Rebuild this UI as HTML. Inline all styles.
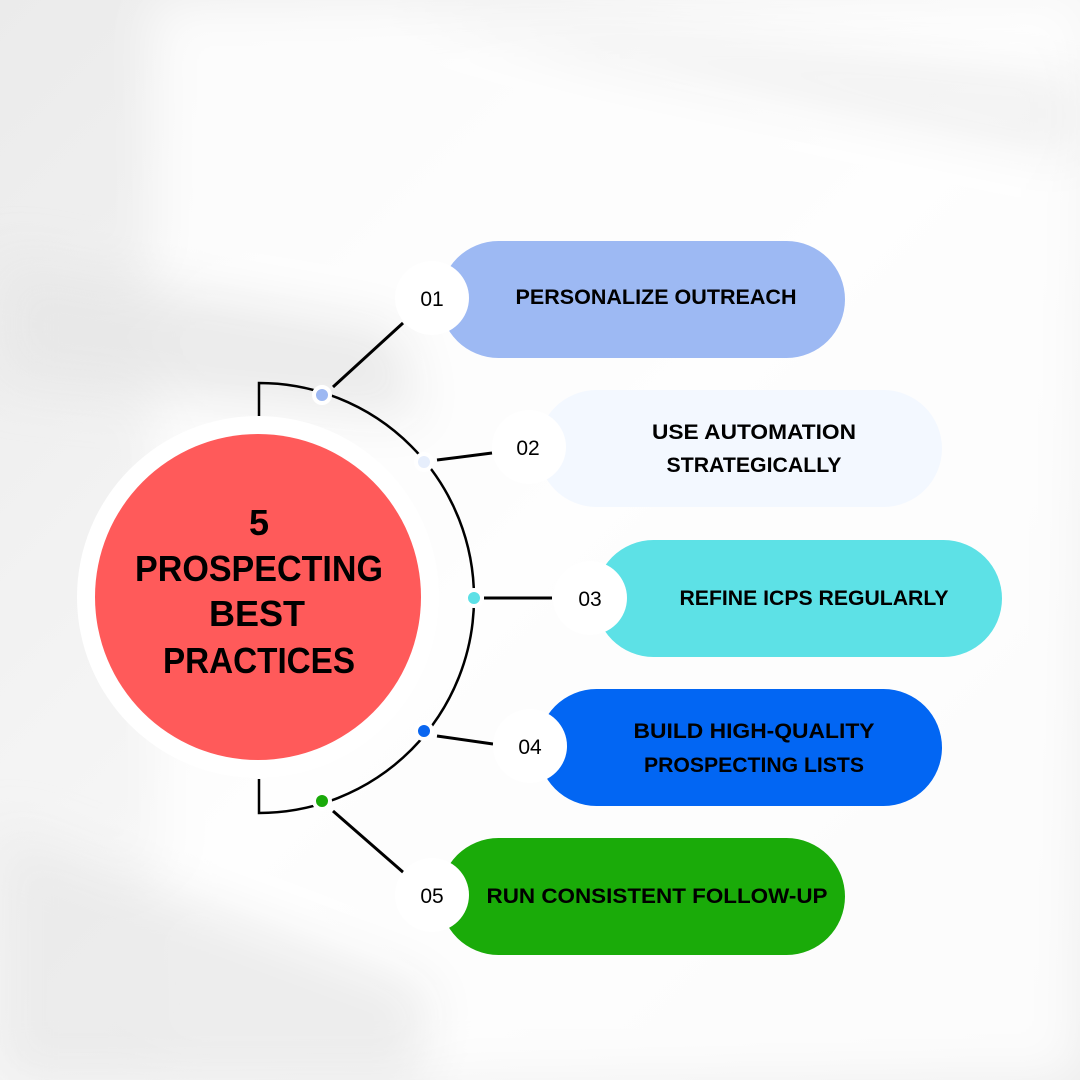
<!DOCTYPE html>
<html><head><meta charset="utf-8"><style>
html,body{margin:0;padding:0;width:1080px;height:1080px;overflow:hidden}
svg{display:block}
text{font-family:"Liberation Sans",sans-serif}
</style></head><body>
<svg width="1080" height="1080" viewBox="0 0 1080 1080" xmlns="http://www.w3.org/2000/svg">
<defs>
<linearGradient id="bg" x1="0" y1="0" x2="1" y2="1">
<stop offset="0" stop-color="#ebebeb"/><stop offset="0.5" stop-color="#f7f7f7"/><stop offset="1" stop-color="#ededed"/>
</linearGradient>
<filter id="bl" x="-50%" y="-50%" width="200%" height="200%"><feGaussianBlur stdDeviation="25"/></filter>
</defs>
<rect width="1080" height="1080" fill="url(#bg)"/>
<g filter="url(#bl)">
<polygon points="150,0 1080,0 1080,1080 160,1080" fill="#ffffff" opacity="0.8"/>
<polygon points="0,260 400,330 420,420 0,380" fill="#e6e6e6" opacity="0.8"/>
<polygon points="0,830 430,990 420,1080 0,1080" fill="#e8e8e8" opacity="0.8"/>
<polygon points="380,0 1080,80 1080,160 600,60" fill="#e9e9e9" opacity="0.6"/>
</g>
<path d="M259 416 V383 A215 215 0 0 1 259 813 V779" fill="none" stroke="#000" stroke-width="2.5"/>
<circle cx="258" cy="597" r="181" fill="#fff"/>
<circle cx="258" cy="597" r="163" fill="#ff5a5a"/>
<g font-weight="bold" font-size="36" text-anchor="middle" fill="#000">
<text x="259" y="535">5</text>
<text x="259" y="581" textLength="248" lengthAdjust="spacingAndGlyphs">PROSPECTING</text>
<text x="257" y="626">BEST</text>
<text x="259" y="673" textLength="192" lengthAdjust="spacingAndGlyphs">PRACTICES</text>
</g>
<g stroke="#000" stroke-width="3">
<line x1="333" y1="387" x2="403" y2="323"/>
<line x1="437" y1="460" x2="492" y2="453"/>
<line x1="484" y1="598" x2="552" y2="598"/>
<line x1="437" y1="736" x2="493" y2="744"/>
<line x1="333" y1="811" x2="404" y2="873"/>
</g>
<g stroke="#fff" stroke-width="4">
<circle cx="322" cy="395" r="8" fill="#9db8f2"/>
<circle cx="424" cy="462" r="8" fill="#e6eefc"/>
<circle cx="474" cy="598" r="8" fill="#5ce0e6"/>
<circle cx="424" cy="731" r="8" fill="#0a66f0"/>
<circle cx="322" cy="801" r="8" fill="#1aaa0a"/>
</g>
<rect x="440" y="241" width="405" height="117" rx="58.5" fill="#9db9f3"/>
<rect x="538" y="390" width="404" height="117" rx="58.5" fill="#f3f8ff"/>
<rect x="595" y="540" width="407" height="117" rx="58.5" fill="#5de1e6"/>
<rect x="538" y="689" width="404" height="117" rx="58.5" fill="#0266f3"/>
<rect x="440" y="838" width="405" height="117" rx="58.5" fill="#1aab09"/>
<g fill="#fff">
<circle cx="432" cy="298" r="37"/>
<circle cx="529" cy="447" r="37"/>
<circle cx="590" cy="598" r="37"/>
<circle cx="530" cy="746" r="37"/>
<circle cx="432" cy="895" r="37"/>
</g>
<g font-size="21" text-anchor="middle" fill="#000">
<text x="432" y="306">01</text>
<text x="528" y="455">02</text>
<text x="590" y="606">03</text>
<text x="530" y="754">04</text>
<text x="432" y="903">05</text>
</g>
<g font-weight="bold" font-size="21" text-anchor="middle" fill="#000">
<text x="656" y="304" textLength="281" lengthAdjust="spacingAndGlyphs">PERSONALIZE OUTREACH</text>
<text x="754" y="439" textLength="204" lengthAdjust="spacingAndGlyphs">USE AUTOMATION</text>
<text x="754" y="472" textLength="175" lengthAdjust="spacingAndGlyphs">STRATEGICALLY</text>
<text x="814" y="605" textLength="269" lengthAdjust="spacingAndGlyphs">REFINE ICPS REGULARLY</text>
<text x="754" y="738" textLength="241" lengthAdjust="spacingAndGlyphs">BUILD HIGH-QUALITY</text>
<text x="754" y="772" textLength="220" lengthAdjust="spacingAndGlyphs">PROSPECTING LISTS</text>
<text x="657" y="903" textLength="341" lengthAdjust="spacingAndGlyphs">RUN CONSISTENT FOLLOW-UP</text>
</g>
</svg>
</body></html>
